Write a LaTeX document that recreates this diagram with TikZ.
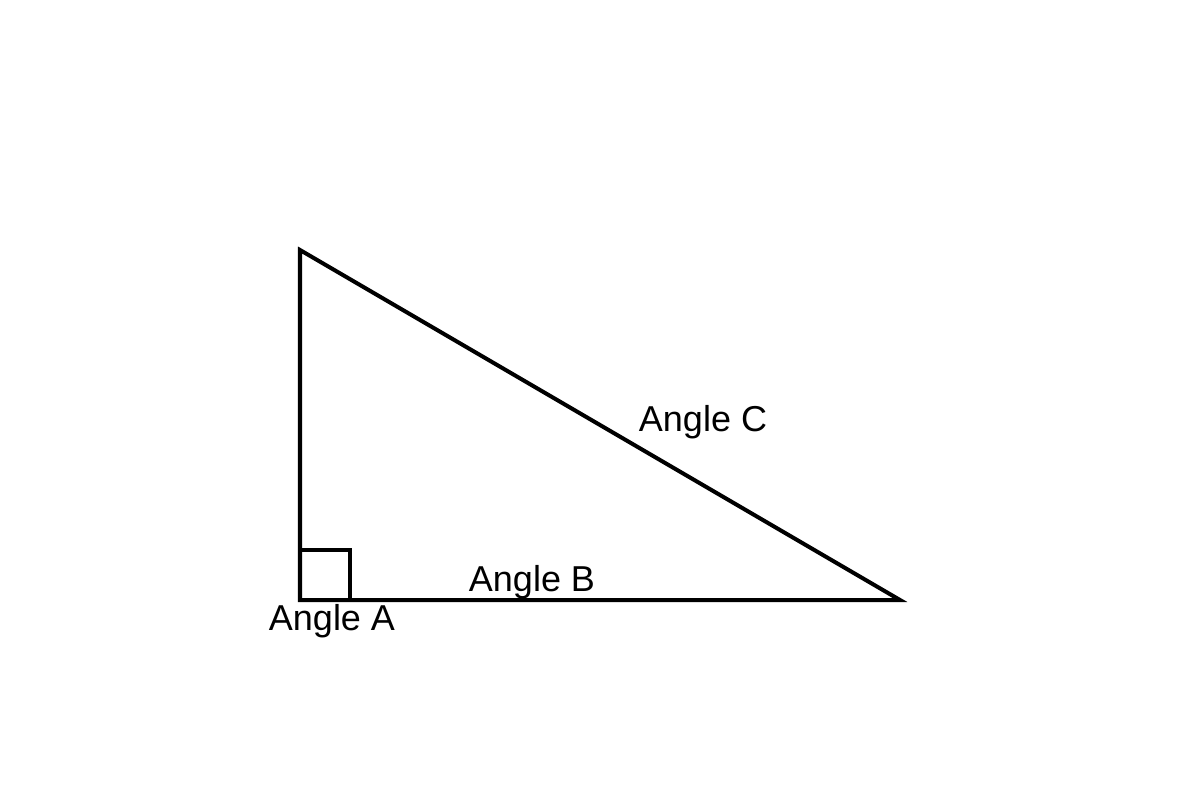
\documentclass[tikz,border=0pt]{standalone}
\usepackage{fontspec}
\setmainfont{Liberation Sans}
\begin{document}
\begin{tikzpicture}[x=0.01cm,y=-0.01cm,
  edge/.style={line width=1.14pt, line join=miter},
  lbl/.style={anchor=base, inner sep=0pt, font=\fontsize{10.24}{12}\selectfont}]
\useasboundingbox (0,0) rectangle (1200,800);
\coordinate (T) at (300,250);
\coordinate (O) at (300,600);
\coordinate (R) at (900,600);
\coordinate (S1) at (300,550);
\coordinate (S2) at (350,550);
\coordinate (S3) at (350,600);
\draw[edge] (T) -- (O) -- (R) -- cycle;
\draw[edge] (S1) -- (S2) -- (S3);
\node[lbl] (lc) at (703,431) {Angle C};
\node[lbl] (lb) at (532,591) {Angle B};
\node[lbl] (la) at (332,630) {Angle A};
\end{tikzpicture}
\end{document}
